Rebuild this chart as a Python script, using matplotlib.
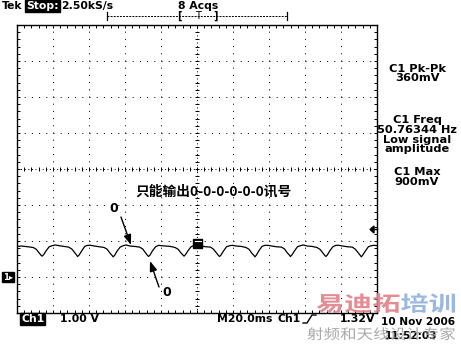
import matplotlib
matplotlib.use('Agg')
import matplotlib.pyplot as plt
import numpy as np
from matplotlib.patches import Rectangle, PathPatch, Polygon, FancyArrowPatch
from matplotlib.lines import Line2D
from matplotlib.textpath import TextPath
from matplotlib.font_manager import FontProperties
from matplotlib.transforms import Affine2D, IdentityTransform

W, H = 461, 346

# scope settings (20 ms/div, 1 V/div, ground 3 div below centre)
time_per_div = 20.0
volt_per_div = 1.0
center_volt = 3.0

# captured trace (ms, V)
trace_t = [-100.0, -97.5, -94.0,
           -91.0, -89.3, -87.7, -86.6, -86.0, -85.2, -83.8, -82.1, -80.4, -78.8, -76.6, -74.0,
           -71.3, -69.6, -68.0, -66.9, -66.3, -65.5, -64.1, -62.4, -60.7, -59.1, -56.9, -54.3,
           -51.6, -49.9, -48.3, -47.2, -46.6, -45.8, -44.4, -42.7, -41.0, -39.4, -37.2, -34.6,
           -31.9, -30.2, -28.6, -27.5, -26.9, -26.1, -24.7, -23.0, -21.3, -19.7, -17.5, -14.9,
           -12.2, -10.5, -8.9, -7.8, -7.2, -6.4, -5.0, -3.3, -1.6, 0.0, 2.2, 4.8,
           7.5, 9.2, 10.8, 11.9, 12.5, 13.3, 14.7, 16.4, 18.1, 19.7, 21.9, 24.5,
           27.2, 28.9, 30.5, 31.6, 32.2, 33.0, 34.4, 36.1, 37.8, 39.4, 41.6, 44.2,
           46.9, 48.6, 50.2, 51.3, 51.9, 52.7, 54.1, 55.8, 57.5, 59.1, 61.3, 63.9,
           66.6, 68.3, 69.9, 71.0, 71.6, 72.4, 73.8, 75.5, 77.2, 78.8, 81.0, 83.6,
           86.3, 88.0, 89.6, 90.7, 91.3, 92.1, 93.5, 95.2, 96.9, 98.5, 100.0]
trace_v = [0.85, 0.86, 0.84,
           0.82, 0.77, 0.67, 0.60, 0.58, 0.62, 0.73, 0.84, 0.87, 0.89, 0.87, 0.85,
           0.83, 0.78, 0.68, 0.61, 0.57, 0.61, 0.72, 0.85, 0.88, 0.88, 0.86, 0.84,
           0.82, 0.77, 0.66, 0.60, 0.56, 0.60, 0.72, 0.83, 0.87, 0.89, 0.86, 0.85,
           0.83, 0.78, 0.67, 0.60, 0.57, 0.61, 0.73, 0.84, 0.88, 0.87, 0.86, 0.85,
           0.82, 0.77, 0.67, 0.61, 0.58, 0.62, 0.73, 0.84, 0.88, 0.89, 0.86, 0.84,
           0.83, 0.77, 0.67, 0.60, 0.57, 0.61, 0.72, 0.84, 0.87, 0.88, 0.86, 0.85,
           0.82, 0.77, 0.66, 0.60, 0.56, 0.61, 0.73, 0.85, 0.88, 0.88, 0.86, 0.84,
           0.83, 0.78, 0.67, 0.61, 0.57, 0.61, 0.72, 0.84, 0.87, 0.89, 0.86, 0.85,
           0.82, 0.77, 0.67, 0.60, 0.57, 0.61, 0.73, 0.84, 0.88, 0.88, 0.86, 0.84,
           0.83, 0.77, 0.67, 0.60, 0.56, 0.61, 0.72, 0.84, 0.87, 0.88, 0.87]

trig_level = 1.32  # V

# readouts
meas_lines = [("C1 Pk-Pk", 69), ("360mV", 78),
              ("C1 Freq", 120), ("50.76344 Hz", 130), ("Low signal", 140), ("amplitude", 149),
              ("C1 Max", 172), ("900mV", 182)]
note_cn = "只能输出0-0-0-0-0-0讯号"

BOLD = dict(family='DejaVu Sans', weight='bold')
CJK = ['Noto Sans CJK SC', 'DejaVu Sans']


def fx(x):
    return x / W


def fy(y):
    return 1 - y / H


fig = plt.figure(figsize=(W / 100, H / 100), dpi=100)
fig.patch.set_facecolor('white')

# graticule: 10 x 8 divisions
ax = fig.add_axes([fx(17), fy(313), 360 / W, 288 / H])
ax.set_xlim(-5 * time_per_div, 5 * time_per_div)
ax.set_ylim(center_volt - 4 * volt_per_div, center_volt + 4 * volt_per_div)
for s in ax.spines.values():
    s.set_linewidth(1.0)
ax.set_xticks(np.arange(-100, 101, 20))
ax.set_yticks(np.arange(-1, 8, 1))
ax.set_xticks(np.arange(-100, 101, 4), minor=True)
ax.set_yticks(np.arange(-1, 7.01, 0.2), minor=True)
ax.tick_params(which='both', direction='in', length=2.2, width=0.7,
               top=True, right=True, labelbottom=False, labelleft=False)

dot = (0, (1, 6.2))
for gx in np.arange(-80, 81, 20):
    if gx != 0:
        ax.axvline(gx, color='k', lw=0.72, ls=dot, zorder=1)
for gy in np.arange(0, 7, 1):
    if gy != center_volt:
        ax.axhline(gy, color='k', lw=0.72, ls=dot, zorder=1)
# centre cross with its small ticks
ax.axvline(0, color='k', lw=0.72, ls=(0, (1, 2.6)), zorder=1)
ax.axhline(center_volt, color='k', lw=0.72, ls=(0, (1, 2.6)), zorder=1)
ax.plot(np.zeros(41), np.arange(-1, 7.01, 0.2), ls='none', marker='_', ms=3.5, mew=0.7, color='k')
ax.plot(np.arange(-100, 101, 4), np.full(51, center_volt), ls='none', marker='|', ms=3.5, mew=0.7, color='k')

ax.plot(trace_t, trace_v, color='k', lw=0.9, zorder=3)

# top status line
fig.text(fx(2), fy(6), "Tek", fontsize=7.8, va='center', **BOLD)
fig.text(fx(26), fy(6), "Stop:", fontsize=7.8, va='center', color='white',
         bbox=dict(facecolor='black', edgecolor='black', pad=0.8), **BOLD)
fig.text(fx(61), fy(6), "2.50kS/s", fontsize=7.8, va='center', **BOLD)
fig.text(fx(178), fy(6), "8 Acqs", fontsize=7.8, va='center', **BOLD)

# record position bar
fig.add_artist(Line2D([fx(107), fx(287)], [fy(16), fy(16)], color='k', lw=0.7, ls=(0, (2, 1.2))))
for bx in (107, 287):
    fig.add_artist(Line2D([fx(bx), fx(bx)], [fy(12), fy(20)], color='k', lw=0.9))
fig.text(fx(179), fy(16), "[", fontsize=7, va='center', ha='center', **BOLD)
fig.text(fx(198), fy(16), "T", fontsize=7, va='center', ha='center', family='DejaVu Sans')
fig.text(fx(216), fy(16), "]", fontsize=7, va='center', ha='center', **BOLD)

# right-hand measurement readouts
for s, y in meas_lines:
    fig.text(fx(417), fy(y), s, fontsize=8.2, va='center', ha='center', **BOLD)

# annotation text
fig.text(fx(135), fy(191), note_cn, fontsize=9.9, va='center', family=CJK, weight='bold')
fig.text(fx(114), fy(208), "0", fontsize=9, va='center', ha='center', **BOLD)
fig.text(fx(167), fy(292), "0", fontsize=9, va='center', ha='center', **BOLD)
arrow = dict(arrowstyle='-|>,head_length=0.6,head_width=0.22', color='k', lw=1.0,
             mutation_scale=10, shrinkA=0, shrinkB=0)
fig.add_artist(FancyArrowPatch((fx(121), fy(217)), (fx(131), fy(245)),
                               transform=fig.transFigure, **arrow))
fig.add_artist(FancyArrowPatch((fx(159), fy(287)), (fx(150), fy(261)),
                               transform=fig.transFigure, **arrow))

# trigger position marker on the trace
fig.add_artist(Rectangle((fx(193), fy(248)), 9 / W, 9 / H, facecolor='k', edgecolor='k',
                         transform=fig.transFigure, zorder=5))
fig.add_artist(Line2D([fx(194.5), fx(200.5)], [fy(241), fy(241)], color='white', lw=0.8, zorder=6))

# trigger level arrow on the right edge
ty = ax.transData.transform((100, trig_level))[1]
fig.add_artist(Polygon([[fx(370), ty / H], [fx(374), ty / H + 3.5 / H], [fx(374), ty / H - 3.5 / H]],
                       closed=True, facecolor='k', edgecolor='k', transform=fig.transFigure))
fig.add_artist(Line2D([fx(373), fx(377)], [ty / H, ty / H], color='k', lw=1.0))

# ground reference marker
gy_pix = ax.transData.transform((0, 0.0))[1]
fig.text(fx(3), gy_pix / H, "1\u25b8", fontsize=6, va='center', color='white',
         bbox=dict(facecolor='black', edgecolor='black', pad=0.6), **BOLD)

# bottom status line
fig.text(fx(21), fy(319), "Ch1", fontsize=7.8, va='center', color='white',
         bbox=dict(facecolor='black', edgecolor='black', pad=0.6), **BOLD)
fig.text(fx(60), fy(319), "1.00 V", fontsize=7.8, va='center', **BOLD)
fig.text(fx(217), fy(319), "M20.0ms", fontsize=7.8, va='center', **BOLD)
fig.text(fx(278), fy(319), "Ch1", fontsize=7.8, va='center', **BOLD)
fig.add_artist(Line2D([fx(303), fx(307), fx(312), fx(316)],
                      [fy(323), fy(323), fy(315), fy(315)], color='k', lw=1.0))
fig.text(fx(340), fy(319), "1.32V", fontsize=7.8, va='center', **BOLD)
fig.text(fx(381), fy(322), "10 Nov 2006", fontsize=7.6, va='center', **BOLD)
fig.text(fx(385), fy(336), "11:52:03", fontsize=7.6, va='center', **BOLD)

# watermark
fp = FontProperties(family='Noto Sans CJK SC', weight='bold')
wm_size, wm_sx = 22, 1.28
wm = [("易迪拓", 0, '#e27f87'), ("培训", 3, '#93b1db')]
for s, k, col in wm:
    tp = TextPath((0, 0), s, size=wm_size, prop=fp)
    tr = Affine2D().scale(wm_sx, 0.95).translate(316 + k * wm_size * wm_sx, H - 311)
    fig.add_artist(PathPatch(tr.transform_path(tp), facecolor=col, edgecolor='none',
                             alpha=0.9, transform=IdentityTransform(), zorder=7))
tp = TextPath((0, 0), "射频和天线设计专家", size=14, prop=FontProperties(family='Noto Sans CJK SC'))
tr = Affine2D().scale(1.18, 1.0).translate(307, H - 339)
fig.add_artist(PathPatch(tr.transform_path(tp), facecolor='#9a9a9a', edgecolor='none',
                         alpha=0.85, transform=IdentityTransform(), zorder=7))

fig.savefig('out.png', dpi=100)
